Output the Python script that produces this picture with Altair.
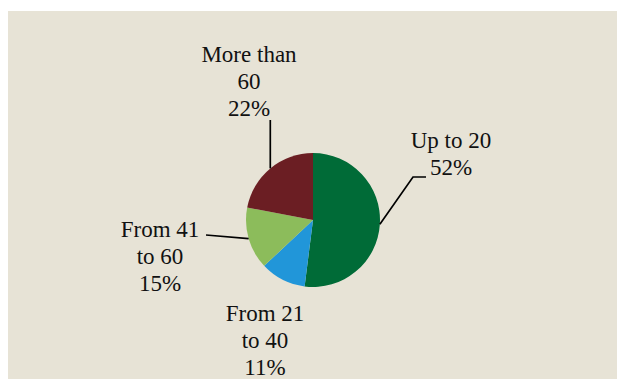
import math
import altair as alt
import pandas as pd

# ---- data ----
categories = ["Up to 20", "From 21 to 40", "From 41 to 60", "More than 60"]
values = [52, 11, 15, 22]
label_texts = ["Up to 20\n52%", "From 21\nto 40\n11%", "From 41\nto 60\n15%", "More than\n60\n22%"]
colors = ["#006b37", "#2196d9", "#8cbc5b", "#6b1e23"]

# ---- layout (pixel space of the whole picture) ----
W, H = 617, 379
PAD_L, PAD_T = 8, 11
CX, CY, R = 313, 220, 67
label_anchor = {  # centre x, baseline y of first line
    "Up to 20": (451, 148),
    "From 21 to 40": (265, 321),
    "From 41 to 60": (160, 237),
    "More than 60": (249, 62),
}
leader_path = {  # points after the slice edge point; None x = keep x of edge point
    "Up to 20": [(413, 177), (426, 177)],
    "From 41 to 60": [(206, 235)],
    "More than 60": [(None, 120)],
}

total = sum(values)
pie_df = pd.DataFrame({"category": categories, "value": values,
                       "order": list(range(len(categories))),
                       "cx": [CX] * len(categories), "cy": [CY] * len(categories)})

# edge points at slice mid angles
rows = []
cum = 0
for cat, v in zip(categories, values):
    mid = (cum + v / 2) / total * 2 * math.pi
    cum += v
    if cat not in leader_path:
        continue
    ex = CX + R * math.sin(mid)
    ey = CY - R * math.cos(mid)
    pts = [(ex, ey)] + [((ex if px is None else px), py) for px, py in leader_path[cat]]
    for i, (px, py) in enumerate(pts):
        rows.append({"category": cat, "seq": i, "x": px, "y": py})
line_df = pd.DataFrame(rows)

label_df = pd.DataFrame({
    "category": categories,
    "text": label_texts,
    "x": [label_anchor[c][0] for c in categories],
    "y": [label_anchor[c][1] for c in categories],
})

xs = alt.Scale(domain=[PAD_L, W], nice=False, zero=False)
ys = alt.Scale(domain=[H, PAD_T], nice=False, zero=False)

pie = alt.Chart(pie_df).mark_arc(outerRadius=R).encode(
    theta=alt.Theta("value:Q", stack=True),
    color=alt.Color("category:N", scale=alt.Scale(domain=categories, range=colors), legend=None),
    order=alt.Order("order:Q"),
    x=alt.X("cx:Q", scale=xs, axis=None),
    y=alt.Y("cy:Q", scale=ys, axis=None),
)

lines = alt.Chart(line_df).mark_line(color="black", strokeWidth=1.7).encode(
    x=alt.X("x:Q", scale=xs, axis=None),
    y=alt.Y("y:Q", scale=ys, axis=None),
    detail="category:N",
    order="seq:Q",
)

labels = alt.Chart(label_df).mark_text(
    font="Liberation Serif", fontSize=23, lineBreak="\n", lineHeight=27,
    baseline="alphabetic", align="center", color="#111111",
).encode(
    x=alt.X("x:Q", scale=xs, axis=None),
    y=alt.Y("y:Q", scale=ys, axis=None),
    text="text:N",
)

chart = alt.layer(pie, lines, labels).properties(
    width=W - PAD_L, height=H - PAD_T,
    padding={"left": PAD_L, "top": PAD_T, "right": 0, "bottom": 0},
    autosize=alt.AutoSizeParams(type="none"),
    background="white",
).configure_view(fill="#e7e3d6", strokeWidth=0)

chart.save("out.html", embed_options={"renderer": "svg", "actions": False})
